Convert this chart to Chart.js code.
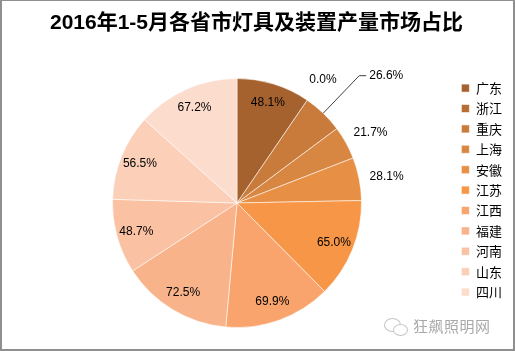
<!DOCTYPE html>
<html>
<head>
<meta charset="utf-8">
<script src="https://cdn.jsdelivr.net/npm/chart.js@4.4.1/dist/chart.umd.min.js"></script>
<style>
    html, body { margin: 0; padding: 0; background: #fff; }
    #wrap { position: relative; width: 515px; height: 351px; overflow: hidden; }
    #chart { position: absolute; left: 0; top: 0; }
    #frame { position: absolute; left: 0; top: 0; width: 511px; height: 348px; border: 2px solid #8f8f8f; border-top-width: 1px; pointer-events: none; }
    #title { position: absolute; left: 0; top: 9px; width: 513px; text-align: center; font: bold 21px/26px "Liberation Sans", "Noto Sans CJK SC", sans-serif; color: #000; }
    #mark { position: absolute; left: 413px; top: 316px; font: 15px/20px "Noto Sans CJK SC", sans-serif; color: #a9a9a9; letter-spacing: 0.5px; }
    .bubble { position: absolute; border: 1.5px solid #c4c4c4; border-radius: 50%; background: #fff; }
</style>
</head>
<body>
<div id="wrap">
    <canvas id="chart" width="515" height="351"></canvas>
    <div id="title">2016年1-5月各省市灯具及装置产量市场占比</div>
    <div class="bubble" style="left:384px;top:318px;width:15px;height:12px;"></div>
    <div class="bubble" style="left:393px;top:324px;width:13px;height:10px;"></div>
    <div id="mark">狂飙照明网</div>
    <div id="frame"></div>
</div>
<script>
// 各省市灯具及装置产量占比
const provinces = ['广东', '浙江', '重庆', '上海', '安徽', '江苏', '江西', '福建', '河南', '山东', '四川'];
const shares = [48.1, 0.0, 26.6, 21.7, 28.1, 65.0, 69.9, 72.5, 48.7, 56.5, 67.2];
const sliceColors = ['#a5622e', '#b86d34', '#c97b3c', '#d88742', '#e88f46', '#f79646', '#f8a46c', '#f9b38b', '#fac1a2', '#fbcfb8', '#fcdccd'];
// 标签放不下时用引导线
const calloutProvinces = ['重庆'];

const pieLabels = {
    id: 'pieLabels',
    afterDatasetsDraw(chart) {
        const ctx = chart.ctx;
        const meta = chart.getDatasetMeta(0);
        ctx.save();
        ctx.font = '12px "Liberation Sans", sans-serif';
        ctx.fillStyle = '#000';
        ctx.textBaseline = 'middle';
        meta.data.forEach((arc, i) => {
            const p = arc.getProps(['x', 'y', 'startAngle', 'endAngle', 'outerRadius'], true);
            const mid = (p.startAngle + p.endAngle) / 2;
            const span = p.endAngle - p.startAngle;
            const r = p.outerRadius;
            const cos = Math.cos(mid), sin = Math.sin(mid);
            const text = shares[i].toFixed(1) + '%';
            if (calloutProvinces.includes(provinces[i])) {
                const ex = p.x + r * cos, ey = p.y + r * sin;
                const kx = p.x + (r + 52) * cos, ky = p.y + (r + 52) * sin;
                ctx.strokeStyle = '#404040';
                ctx.lineWidth = 1;
                ctx.beginPath();
                ctx.moveTo(ex, ey);
                ctx.lineTo(kx, ky);
                ctx.lineTo(kx + 7, ky);
                ctx.stroke();
                ctx.textAlign = 'left';
                ctx.fillText(text, kx + 10, ky);
            } else if (span < 0.37) {
                ctx.textAlign = 'center';
                ctx.fillText(text, p.x + (r + 28) * cos, p.y + (r + 28) * sin + 3);
            } else {
                ctx.textAlign = 'center';
                ctx.fillText(text, p.x + 0.84 * r * cos, p.y + 0.84 * r * sin);
            }
        });
        ctx.restore();
    }
};

new Chart(document.getElementById('chart').getContext('2d'), {
    type: 'pie',
    data: {
        labels: provinces,
        datasets: [{
            data: shares,
            backgroundColor: sliceColors,
            borderColor: 'rgba(255,255,255,0.55)',
            borderWidth: 1
        }]
    },
    options: {
        responsive: false,
        animation: false,
        layout: { padding: { top: 78, bottom: 23, left: 20, right: 5 } },
        plugins: {
            title: { display: false },
            tooltip: { enabled: false },
            legend: {
                position: 'right',
                align: 'start',
                maxWidth: 56,
                title: { display: true, text: '', font: { size: 1 }, padding: { top: -5, bottom: 0 } },
                labels: {
                    boxWidth: 8, boxHeight: 8, padding: 7.4,
                    color: '#000',
                    font: { family: '"Noto Sans CJK SC", sans-serif', size: 13 }
                }
            }
        }
    },
    plugins: [pieLabels]
});
</script>
</body>
</html>
